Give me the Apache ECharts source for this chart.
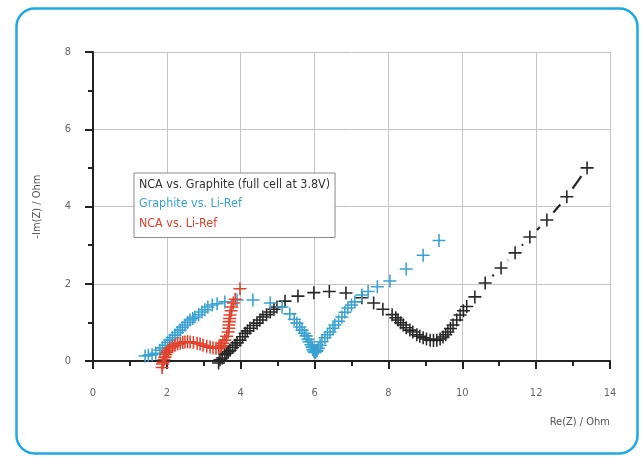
<!DOCTYPE html>
<html>
<head>
<meta charset="utf-8">
<script src="https://cdn.jsdelivr.net/npm/echarts@6/dist/echarts.min.js"></script>
<style>html,body{margin:0;padding:0;background:#fff;}#c{width:642px;height:458px;}</style>
</head>
<body>
<div id="c"></div>
<script>
const seriesNames = ['NCA vs. Graphite (full cell at 3.8V)', 'Graphite vs. Li-Ref', 'NCA vs. Li-Ref'];
const xAxisTitle = 'Re(Z) / Ohm';
const yAxisTitle = '-Im(Z) / Ohm';

const blackRe = [3.40,3.44,3.50,3.57,3.62,3.66,3.71,3.78,3.85,3.90,3.98,4.05,4.12,4.18,4.25,4.35,4.44,4.52,4.60,4.70,4.80,4.90,4.98,5.20,5.55,5.98,6.40,6.85,7.28,7.60,7.85,8.10,8.20,8.26,8.33,8.40,8.48,8.58,8.66,8.77,8.85,8.94,9.03,9.13,9.22,9.31,9.40,9.48,9.55,9.61,9.68,9.75,9.85,9.94,10.03,10.12,10.34,10.62,11.05,11.43,11.83,12.29,12.83,13.38];
const blackIm = [-0.05,0.03,0.08,0.16,0.20,0.24,0.28,0.35,0.41,0.47,0.54,0.63,0.72,0.78,0.85,0.92,0.98,1.06,1.14,1.20,1.27,1.34,1.40,1.55,1.68,1.77,1.80,1.76,1.64,1.50,1.34,1.20,1.12,1.06,0.99,0.93,0.86,0.80,0.75,0.68,0.64,0.60,0.57,0.54,0.53,0.54,0.57,0.62,0.68,0.75,0.84,0.93,1.06,1.19,1.30,1.41,1.66,2.02,2.41,2.80,3.21,3.65,4.25,5.00];

const blueRe = [1.41,1.50,1.60,1.70,1.81,1.88,1.95,2.02,2.08,2.15,2.22,2.29,2.36,2.42,2.49,2.56,2.63,2.70,2.76,2.86,2.95,3.03,3.11,3.23,3.36,3.57,3.90,4.33,4.80,5.12,5.33,5.45,5.52,5.60,5.66,5.72,5.77,5.82,5.85,5.90,5.93,5.95,5.98,6.00,6.02,6.05,6.07,6.10,6.15,6.20,6.28,6.35,6.42,6.50,6.55,6.65,6.74,6.82,6.90,7.00,7.09,7.28,7.45,7.70,8.04,8.48,8.94,9.37];
const blueIm = [0.13,0.15,0.16,0.20,0.28,0.34,0.41,0.48,0.54,0.60,0.67,0.74,0.80,0.87,0.93,1.00,1.06,1.10,1.14,1.20,1.27,1.33,1.40,1.45,1.48,1.53,1.58,1.58,1.50,1.40,1.22,1.08,0.98,0.88,0.80,0.72,0.65,0.56,0.49,0.42,0.36,0.30,0.26,0.23,0.22,0.25,0.28,0.33,0.41,0.50,0.60,0.68,0.75,0.85,0.93,1.03,1.14,1.26,1.37,1.45,1.53,1.71,1.80,1.92,2.07,2.38,2.74,3.12];

const redRe = [1.87,1.88,1.90,1.92,1.95,1.97,2.00,2.04,2.08,2.15,2.22,2.29,2.36,2.43,2.49,2.56,2.63,2.72,2.82,2.90,2.98,3.08,3.17,3.25,3.33,3.40,3.44,3.48,3.52,3.57,3.62,3.66,3.68,3.68,3.69,3.70,3.71,3.74,3.76,3.80,3.85,3.98];
const redIm = [-0.17,-0.08,-0.03,0.04,0.10,0.17,0.23,0.28,0.33,0.37,0.41,0.44,0.46,0.48,0.49,0.50,0.49,0.48,0.46,0.44,0.41,0.38,0.36,0.34,0.33,0.34,0.36,0.40,0.46,0.54,0.64,0.75,0.85,0.93,1.02,1.10,1.19,1.30,1.40,1.50,1.60,1.87];

const colors = ['#262626', '#3aa2d2', '#e2412c'];
const plusPath = 'path://M0,8.8H20V11.2H0Z M8.8,0H11.2V20H8.8Z';
const fontFam = "'Liberation Sans Narrow', 'DejaVu Sans Condensed', 'Roboto', sans-serif";

function pts(xs, ys) { return xs.map((x, i) => [x, ys[i]]); }
function segs(xs, ys) {
  const out = [];
  for (let i = 0; i < xs.length - 1; i++) out.push([xs[i], ys[i], xs[i + 1], ys[i + 1]]);
  return out;
}
function gapLine(color, width, gap) {
  return function (params, api) {
    const a = api.coord([api.value(0), api.value(1)]);
    const b = api.coord([api.value(2), api.value(3)]);
    const dx = b[0] - a[0], dy = b[1] - a[1];
    const len = Math.sqrt(dx * dx + dy * dy);
    if (len <= 2 * gap + 0.5) return null;
    const ux = dx / len, uy = dy / len;
    return {
      type: 'line',
      shape: { x1: a[0] + ux * gap, y1: a[1] + uy * gap, x2: b[0] - ux * gap, y2: b[1] - uy * gap },
      style: { stroke: color, lineWidth: width, fill: null }
    };
  };
}

const allRe = [blackRe, blueRe, redRe];
const allIm = [blackIm, blueIm, redIm];

const series = [];
series.push({
  type: 'custom',
  name: 'black connector',
  renderItem: gapLine(colors[0], 2.2, 10),
  data: segs(blackRe, blackIm),
  encode: { x: [0, 2], y: [1, 3] },
  clip: false,
  silent: true,
  z: 2
});
series.push({
  type: 'custom',
  name: 'blue connector',
  renderItem: gapLine(colors[1], 2, 11.5),
  data: segs(blueRe.slice(-2), blueIm.slice(-2)),
  encode: { x: [0, 2], y: [1, 3] },
  clip: false,
  silent: true,
  z: 2
});
[0, 1, 2].forEach(i => {
  series.push({
    type: 'scatter',
    name: seriesNames[i],
    data: pts(allRe[i], allIm[i]),
    symbol: plusPath,
    symbolSize: 13,
    itemStyle: { color: colors[i], opacity: 1 },
    clip: false,
    z: 3 + i
  });
});

const chart = echarts.init(document.getElementById('c'), null, { renderer: 'canvas' });
chart.setOption({
  animation: false,
  backgroundColor: '#ffffff',
  grid: { left: 93, right: 32, top: 52, bottom: 97, containLabel: false },
  xAxis: {
    type: 'value', min: 0, max: 14, interval: 2,
    axisLine: { show: true, onZero: false, lineStyle: { color: '#222', width: 2 } },
    axisTick: { show: true, inside: false, length: 8, lineStyle: { color: '#222', width: 2 } },
    minorTick: { show: true, splitNumber: 2, length: 5, lineStyle: { color: '#222', width: 2 } },
    splitLine: { show: true, lineStyle: { color: '#c4c4c4', width: 1 } },
    axisLabel: { color: '#666', fontSize: 11, margin: 27, fontFamily: fontFam }
  },
  yAxis: {
    type: 'value', min: 0, max: 8, interval: 2,
    axisLine: { show: true, onZero: false, lineStyle: { color: '#222', width: 2 } },
    axisTick: { show: true, inside: false, length: 8, lineStyle: { color: '#222', width: 2 } },
    minorTick: { show: true, splitNumber: 2, length: 5, lineStyle: { color: '#222', width: 2 } },
    splitLine: { show: true, lineStyle: { color: '#c4c4c4', width: 1 } },
    axisLabel: { color: '#666', fontSize: 11, margin: 22, fontFamily: fontFam },
    name: yAxisTitle, nameLocation: 'middle', nameGap: 50, nameRotate: 90,
    nameTextStyle: { color: '#555', fontSize: 11, fontFamily: fontFam }
  },
  legend: {
    orient: 'vertical', left: 134, top: 173,
    data: [
      { name: seriesNames[0], textStyle: { color: '#333' } },
      { name: seriesNames[1], textStyle: { color: '#3aa2d2' } },
      { name: seriesNames[2], textStyle: { color: '#e2412c' } }
    ],
    icon: 'none', itemWidth: 0, itemHeight: 13, itemGap: 7,
    selectedMode: false,
    backgroundColor: '#fff',
    borderColor: '#8a8a8a', borderWidth: 1, padding: [5, 5, 8, 0],
    textStyle: { fontSize: 12.4, fontFamily: fontFam, padding: [0, 0, 0, 0] }
  },
  graphic: [
    {
      type: 'rect', left: 14, top: 6, z: 100, silent: true,
      shape: { width: 621, height: 445, r: 18 },
      style: { fill: null, stroke: '#1fa9e1', lineWidth: 2.5 }
    },
    {
      type: 'text', right: 32, top: 417, z: 100,
      style: { text: xAxisTitle, fill: '#555', font: '11px ' + fontFam }
    }
  ],
  series: series
});
</script>
</body>
</html>
